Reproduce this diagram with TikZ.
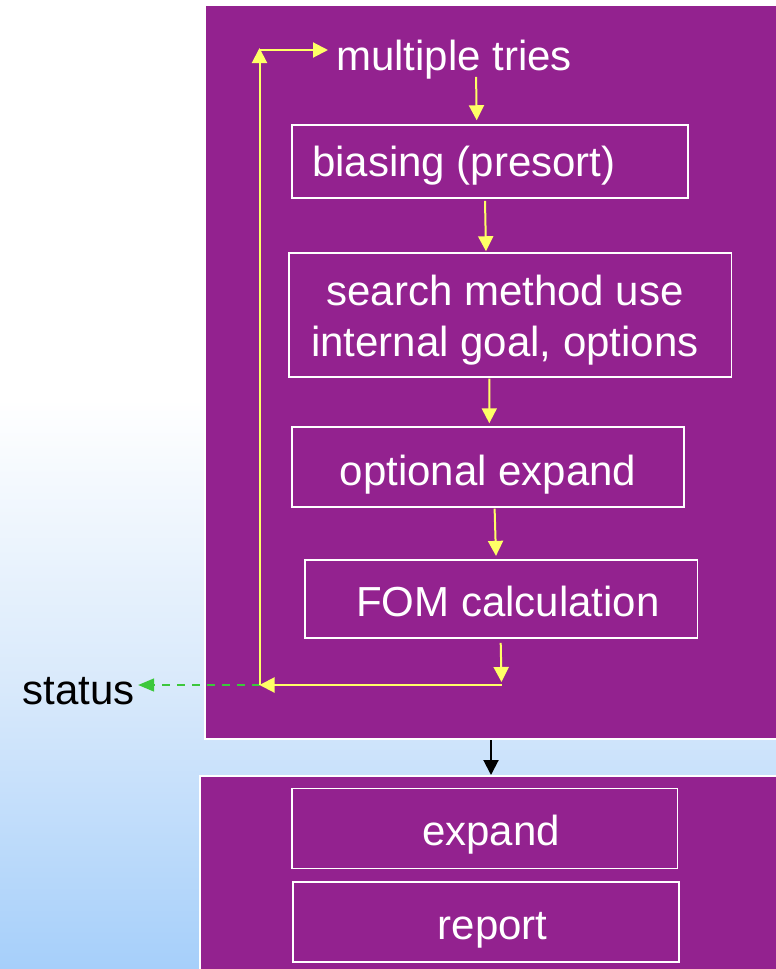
\documentclass[tikz,border=0pt]{standalone}
\usepackage{fontspec}
\setmainfont{Liberation Sans}
\usetikzlibrary{arrows.meta}
\definecolor{purp}{RGB}{147,34,143}
\definecolor{yel}{RGB}{255,255,102}
\definecolor{grn}{RGB}{60,200,60}
\definecolor{bgB}{RGB}{166,207,250}
\definecolor{bgM}{RGB}{216,233,251}
\pgfdeclareverticalshading{bgsh}{100bp}{color(0bp)=(bgB); color(25bp)=(bgB); color(39.4bp)=(bgM); color(54.4bp)=(white); color(100bp)=(white)}
\begin{document}
\begin{tikzpicture}[x=1pt,y=-1pt,
  panel/.style={draw=white, line width=2pt, fill=purp, rectangle, inner sep=0pt},
  stepbox/.style={draw=white, line width=1.6pt, rectangle, inner sep=0pt},
  lbl/.style={text=white, inner sep=0pt, anchor=base, font=\fontsize{42}{50}\selectfont},
  ya/.style={draw=yel, line width=2pt, -{Triangle[length=15pt,width=15pt]}},
  yl/.style={draw=yel, line width=2pt},
  ga/.style={draw=grn, line width=1.6pt, dash pattern=on 8pt off 7pt, -{Triangle[length=16pt,width=13pt]}},
  ba/.style={draw=black, line width=2pt, -{Triangle[length=15pt,width=15pt]}}]
\useasboundingbox (0,0) rectangle (776,969);
\clip (0,0) rectangle (776,969);
\shade[shading=bgsh] (0,0) rectangle (776,969);

% panels
\node[panel, minimum width=595pt, minimum height=734pt] (main) at (502.5,372) {};
\node[panel, minimum width=600pt, minimum height=214pt] (lower) at (500,883) {};

% boxes
\node[stepbox, minimum width=396.3pt, minimum height=72.7pt] (bias) at (489.9,161.4) {};
\node[stepbox, minimum width=442.7pt, minimum height=123.7pt] (search) at (510.3,314.9) {};
\node[stepbox, minimum width=392.3pt, minimum height=79.7pt] (opt) at (487.9,466.9) {};
\node[stepbox, minimum width=392.3pt, minimum height=78pt] (fom) at (501.2,599) {};
\node[stepbox, minimum width=385.6pt, minimum height=80pt] (expand) at (484.5,828.3) {};
\node[stepbox, minimum width=386.3pt, minimum height=80pt] (report) at (485.9,921.7) {};

% texts
\node[lbl, anchor=base west] (tries) at (336,70) {multiple tries};
\node[lbl, anchor=base west] (biasT) at (312,176.7) {biasing (presort)};
\node[lbl] (searchT1) at (505,305) {search method use};
\node[lbl] (searchT2) at (505,356) {internal goal, options};
\node[lbl] (optT) at (488,485) {optional expand};
\node[lbl] (fomT) at (508,616.7) {FOM calculation};
\node[lbl] (expandT) at (491,845) {expand};
\node[lbl] (reportT) at (492.7,939.3) {report};
\node[lbl, anchor=base west, text=black] (status) at (22.7,704) {status};

% loop corners
\coordinate (c1) at (501.5,685);
\coordinate (c2) at (259.5,685);
\coordinate (c3) at (259.5,50);

% flow arrows
\draw[ya] ([xshift=22pt,yshift=2pt]tries.south) -- ([xshift=-13.2pt,yshift=4pt]bias.north);
\draw[ya] ([xshift=-4.9pt,yshift=-2.3pt]bias.south) -- ([xshift=-24.3pt,yshift=1pt]search.north);
\draw[ya] ([xshift=-21pt,yshift=-1pt]search.south) -- ([xshift=1.4pt,yshift=3pt]opt.north);
\draw[ya] ([xshift=6.7pt,yshift=-1pt]opt.south) -- ([xshift=-5.2pt,yshift=3.3pt]fom.north);
\draw[ya] ([xshift=-0.5pt,yshift=-4pt]fom.south) -- ([yshift=3pt]c1);

% loop back
\draw[ga] (c2) -- ([xshift=3pt]c2 -| status.east);
\draw[ya] (c1) -- (c2);
\draw[ya] (c2) -- ([yshift=2pt]c3);
\draw[ya] (c3) -- ([xshift=-8pt]c3 -| tries.west);

% to lower panel
\draw[ba] ([xshift=-11.5pt]main.south) -- ([xshift=-9pt]lower.north);
\end{tikzpicture}
\end{document}
